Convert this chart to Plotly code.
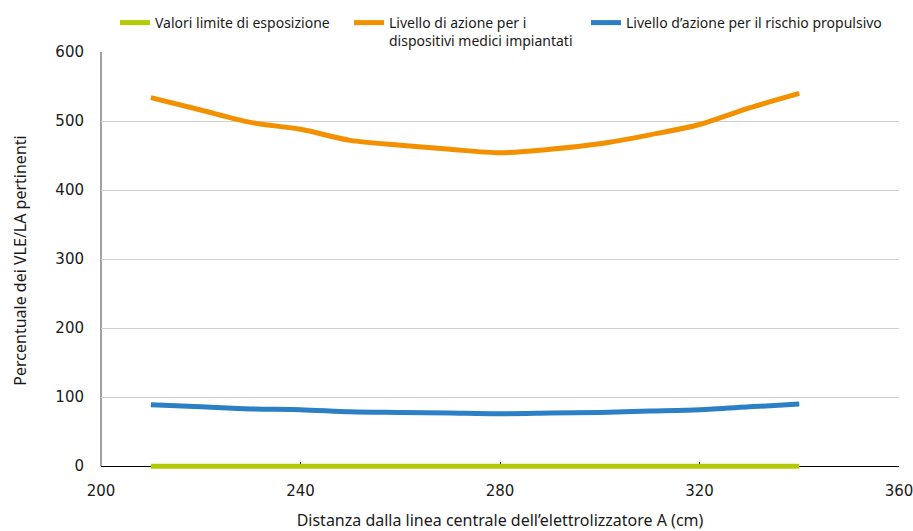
import plotly.graph_objects as go

distanza = [210, 220, 230, 240, 250, 260, 270, 280, 290, 300, 310, 320, 330, 340]
vle = [0, 0, 0, 0, 0, 0, 0, 0, 0, 0, 0, 0, 0, 0]
la_dmi = [534, 516, 498, 488, 472, 465, 459, 454, 459, 467, 480, 495, 519, 540]
la_prop = [89, 86, 83, 82, 79, 78, 77, 76, 77, 78, 80, 82, 86, 90]

names = [
    "Valori limite di esposizione",
    "Livello di azione per i<br>dispositivi medici impiantati",
    "Livello d’azione per il rischio propulsivo",
]
colors = ["#b3cb06", "#f39000", "#2b7fc4"]
legend_ids = ["legend", "legend2", "legend3"]
legend_x_px = [115, 349, 586]

text_font = "Noto Sans, DejaVu Sans, sans-serif"
tick_font = "DejaVu Sans, sans-serif"
W, H = 913, 531

Y_MIN, Y_MAX = -4, 600          # small pad below 0 so the 0-line is not clipped
px_per_unit = (466 - 52) / 600
bottom_margin = 65 - (0 - Y_MIN) * px_per_unit

fig = go.Figure()
for ys, nm, col, lg in zip([vle, la_dmi, la_prop], names, colors, legend_ids):
    fig.add_trace(go.Scatter(
        x=distanza, y=ys, name=nm, mode="lines",
        line=dict(color=col, width=5, shape="spline", smoothing=0.8),
        cliponaxis=False, legend=lg,
    ))

legend_common = dict(
    orientation="h", xref="container", yref="container",
    xanchor="left", y=1 - 7 / H, yanchor="top",
    valign="top", itemwidth=30,
    font=dict(size=14, family=text_font, color="#1a1a1a"),
    bgcolor="rgba(0,0,0,0)",
)
legends = {lg: dict(legend_common, x=px / W) for lg, px in zip(legend_ids, legend_x_px)}

# y axis line from 0 to 600, beneath the traces
fig.add_shape(type="line", xref="paper", yref="y", x0=0, x1=0, y0=0, y1=600,
              line=dict(color="#444444", width=1), layer="below")

fig.update_layout(
    width=W, height=H,
    margin=dict(l=101, r=14, t=52, b=bottom_margin, autoexpand=False),
    paper_bgcolor="white", plot_bgcolor="white",
    font=dict(family=text_font, color="#1a1a1a"),
    showlegend=True,
    **legends,
    xaxis=dict(
        range=[200, 360], tickvals=[200, 240, 280, 320, 360],
        anchor="free", position=(0 - Y_MIN) / (Y_MAX - Y_MIN),
        showgrid=False, zeroline=False, automargin=False,
        showline=True, linecolor="#000000", linewidth=1.2,
        ticks="inside", ticklen=4, tickcolor="#000000", tickwidth=1,
        tickfont=dict(size=15, family=tick_font, color="#1a1a1a"),
        ticklabelstandoff=11, ticklabeloverflow="allow", layer="below traces",
        title=dict(text="Distanza dalla linea centrale dell’elettrolizzatore A (cm)",
                   font=dict(size=16), standoff=17),
    ),
    yaxis=dict(
        range=[Y_MIN, Y_MAX], tickvals=[0, 100, 200, 300, 400, 500, 600],
        showgrid=True, gridcolor="#d0d0d0", gridwidth=1, automargin=False,
        zeroline=False, showline=False,
        ticks="", tickfont=dict(size=15, family=tick_font, color="#1a1a1a"),
        ticklabelstandoff=16, ticklabeloverflow="allow", layer="below traces",
        title=dict(text="Percentuale dei VLE/LA pertinenti",
                   font=dict(size=16), standoff=24),
    ),
)

fig.write_html("out.html", config={"displayModeBar": False},
               post_script="document.body.style.margin='0';")
